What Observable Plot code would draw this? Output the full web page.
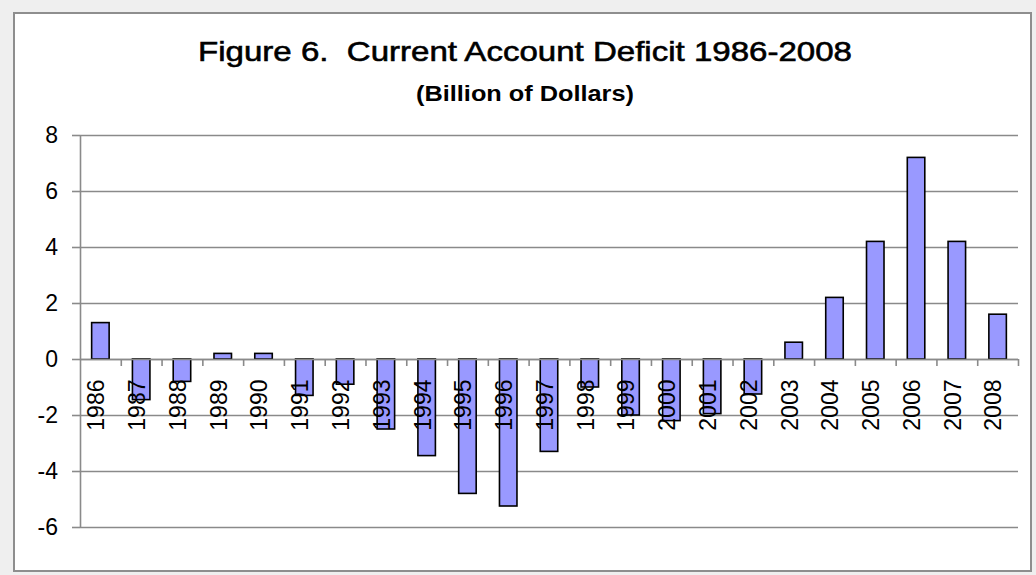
<!DOCTYPE html>
<html>
<head>
<meta charset="utf-8">
<script src="https://cdn.jsdelivr.net/npm/d3@7"></script>
<script src="https://cdn.jsdelivr.net/npm/@observablehq/plot@0.6"></script>
<style>
  html, body { margin: 0; padding: 0; background: #efefef; width: 1036px; height: 575px; overflow: hidden; }
  #frame { position: absolute; left: 13px; top: 12px; width: 1015px; height: 556px; background: #fff; border: 2px solid #8e8e8e; }
  .ttl { position: absolute; left: 525px; white-space: nowrap; line-height: 1; font-family: "Liberation Sans", Arial, sans-serif; color: #000; }
  #title { top: 38px; font-size: 28px; transform: translateX(-50%) scaleX(1.18); -webkit-text-stroke: 0.6px #000; }
  #subtitle { top: 83px; font-size: 22px; font-weight: bold; transform: translateX(-50%) scaleX(1.15); }
  #chart { position: absolute; left: 0; top: 0; }
</style>
</head>
<body>
<div id="frame"></div>
<div class="ttl" id="title">Figure 6.&nbsp; Current Account Deficit 1986-2008</div>
<div class="ttl" id="subtitle">(Billion of Dollars)</div>
<div id="chart"></div>
<script>
const years = ["1986","1987","1988","1989","1990","1991","1992","1993","1994","1995","1996","1997","1998","1999","2000","2001","2002","2003","2004","2005","2006","2007","2008"];
const values = [1.3, -1.45, -0.8, 0.2, 0.2, -1.3, -0.9, -2.5, -3.45, -4.8, -5.25, -3.3, -1.0, -2.0, -2.2, -1.95, -1.25, 0.6, 2.2, 4.2, 7.2, 4.2, 1.6];
const yTicks = [-6, -4, -2, 0, 2, 4, 6, 8];

const data = years.map((y, i) => ({year: y, value: values[i]}));

const W = 1036, H = 575;
const mL = 80, mR = 18, mT = 135, mB = 48;
const bw = (W - mL - mR) / years.length;
const barW = 17.5;
const inset = (bw - barW) / 2;
const grid = "#8a8a8a";

const chart = Plot.plot({
  width: W,
  height: H,
  marginLeft: mL,
  marginRight: mR,
  marginTop: mT,
  marginBottom: mB,
  style: {background: "transparent", fontFamily: "'Liberation Sans', Arial, sans-serif", color: "#000"},
  x: {type: "band", domain: years, padding: 0, round: false, axis: null},
  y: {domain: [-6, 8], axis: null},
  marks: [
    Plot.gridY(yTicks, {stroke: grid, strokeOpacity: 1, strokeWidth: 1.6}),
    Plot.barY(data, {x: "year", y: "value", fill: "#9999ff", stroke: "#000", strokeWidth: 1.6, insetLeft: inset, insetRight: inset}),
    Plot.ruleY([0], {stroke: grid, strokeWidth: 1.6}),
    Plot.ruleX([years[0]], {x: d => d, dx: -bw / 2, stroke: grid, strokeWidth: 1.6}),
    Plot.ruleX(years, {x: d => d, y1: 0, y2: -0.25, dx: bw / 2, stroke: grid, strokeWidth: 1.6}),
    Plot.text(data, {x: "year", y: () => 0, text: "year", rotate: -90, textAnchor: "end", dy: 20, dx: -4, fontSize: 23, fill: "#000"}),
    Plot.axisY(yTicks, {label: null, tickSize: 8, tickPadding: 14.5, fontSize: 23, stroke: grid, strokeWidth: 1.6, fill: "#000", tickFormat: d => String(d)})
  ]
});
document.getElementById("chart").appendChild(chart);
</script>
</body>
</html>
